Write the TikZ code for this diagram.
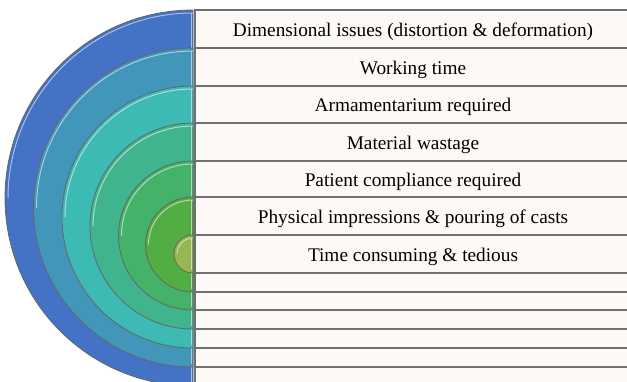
\documentclass[tikz,border=0pt]{standalone}
\usepackage{fontspec}
\setmainfont{Liberation Serif}
\begin{document}
\begin{tikzpicture}[x=1pt,y=-1pt]

% Define the colors for the rings and the boxes
\definecolor{ringA}{RGB}{68,114,196}
\definecolor{ringB}{RGB}{66,150,186}
\definecolor{ringC}{RGB}{62,186,180}
\definecolor{ringD}{RGB}{64,180,140}
\definecolor{ringE}{RGB}{68,178,104}
\definecolor{ringF}{RGB}{82,174,66}
\definecolor{ringG}{RGB}{150,182,80}
\definecolor{boxfill}{RGB}{253,249,246}
\definecolor{boxline}{RGB}{112,112,112}

\tikzset{
    ringedge/.style={draw=black!60, line width=0.8pt},
    gloss/.style={white, opacity=0.55, line width=1pt},
    rowbox/.style={fill=boxfill, draw=boxline, line width=1.2pt},
    rowtext/.style={font=\fontsize{19.3}{22}\selectfont, text height=13pt, text depth=0pt, inner sep=0pt}
}

\useasboundingbox (0,0) rectangle (627,381);
\clip (0,0) rectangle (627,381);

% Split line and right end of the boxes
\def\xsplit{193}
\def\xend{633}

% Draw rings (half disks) and their boxes, outer first
\foreach \i/\ytop/\ybot/\col in {1/10/386/ringA, 2/48/367/ringB, 3/86/348/ringC, 4/123/329/ringD, 5/161/310/ringE, 6/197/292/ringF, 7/235/273/ringG} {
    \pgfmathsetmacro{\rad}{(\ybot-\ytop)/2}
    \draw[rowbox] (\xsplit+2, \ytop) rectangle (\xend, \ybot);
    \fill[\col, ringedge] (\xsplit, \ytop) arc[start angle=270, end angle=90, radius=\rad] -- cycle;
    % glossy edge
    \draw[gloss] (\xsplit, \ytop+3) arc[start angle=270, end angle=180, radius=\rad-3];
    \draw[gloss] (\xsplit-2, \ytop+3) -- (\xsplit-2, \ybot-3);
}

% Labels inside the boxes
\node[rowtext] (dim)   at (413, 29.5)  {Dimensional issues (distortion \& deformation)};
\node[rowtext] (work)  at (413, 67.5)  {Working time};
\node[rowtext] (arma)  at (413, 105)   {Armamentarium required};
\node[rowtext] (waste) at (413, 142.5) {Material wastage};
\node[rowtext] (pat)   at (413, 179.5) {Patient compliance required};
\node[rowtext] (phys)  at (413, 216.5) {Physical impressions \& pouring of casts};
\node[rowtext] (time)  at (413, 254.5) {Time consuming \& tedious};

\end{tikzpicture}
\end{document}
